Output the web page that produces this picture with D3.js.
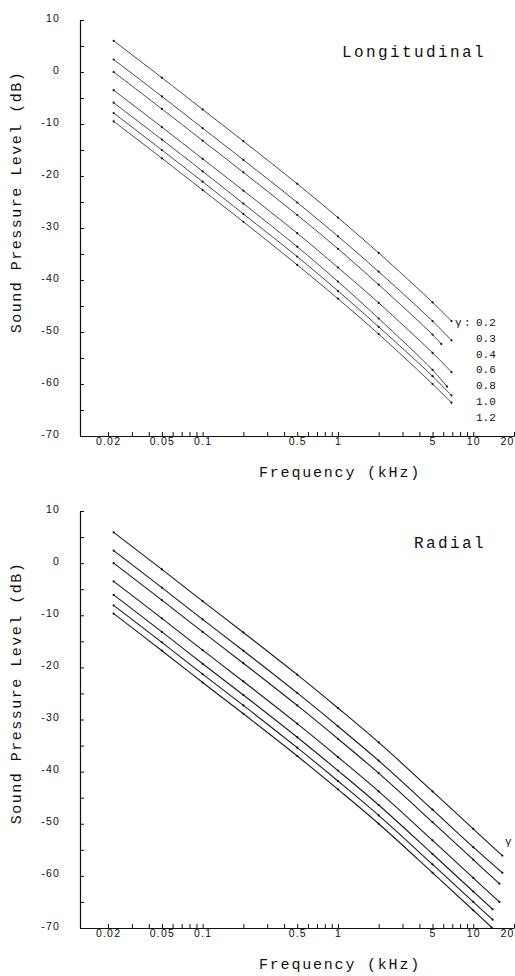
<!DOCTYPE html>
<html>
<head>
<meta charset="utf-8">
<script src="https://cdn.jsdelivr.net/npm/d3@7"></script>
<style>
  body { margin: 0; background: #fff; }
  svg { display: block; }
  .tick text { font-family: "Liberation Sans Narrow", "Liberation Sans", Arial, sans-serif; font-size: 10.5px; letter-spacing: 1.2px; fill: #111; }
  .mono { font-family: "Liberation Mono", "Courier New", monospace; fill: #111; }
</style>
</head>
<body>
<svg id="chart" width="515" height="976"></svg>
<script>
// gamma values (one curve each)
const gammaLabels = ["0.2", "0.3", "0.4", "0.6", "0.8", "1.0", "1.2"];

// Longitudinal panel, kHz / dB
const longFreq = [0.022, 0.05, 0.1, 0.2, 0.5, 1, 2, 5];
const longEndFreq = [6.9, 6.9, 5.8, 6.9, 6.4, 6.9, 6.9];
const long02 = [6.0, -1.1, -7.2, -13.3, -21.5, -28.0, -34.8, -44.3, -47.9];
const long03 = [2.4, -4.7, -10.8, -16.9, -25.1, -31.6, -38.4, -47.9, -51.6];
const long04 = [0.0, -7.1, -13.2, -19.3, -27.5, -34.0, -40.9, -50.5, -52.3];
const long06 = [-3.5, -10.6, -16.7, -22.8, -31.0, -37.6, -44.4, -54.0, -57.7];
const long08 = [-5.9, -13.0, -19.1, -25.3, -33.6, -40.3, -47.4, -57.3, -60.5];
const long10 = [-7.9, -15.0, -21.1, -27.3, -35.5, -42.1, -49.0, -58.5, -62.2];
const long12 = [-9.5, -16.6, -22.7, -28.8, -37.1, -43.6, -50.4, -60.0, -63.6];

// Radial panel
const radFreq = [0.022, 0.05, 0.1, 0.2, 0.5, 1, 2, 5, 10];
const radEndFreq = [16.4, 16.4, 15.6, 15.6, 13.9, 13.9, 13.7];
const rad02 = [5.9, -1.2, -7.3, -13.3, -21.4, -27.8, -34.4, -43.8, -51.0, -56.1];
const rad03 = [2.4, -4.7, -10.8, -16.8, -24.9, -31.3, -37.9, -47.3, -54.5, -59.4];
const rad04 = [0.0, -7.1, -13.2, -19.2, -27.3, -33.7, -40.3, -49.7, -56.9, -61.5];
const rad06 = [-3.5, -10.6, -16.7, -22.7, -30.8, -37.2, -43.8, -53.2, -60.4, -65.0];
const rad08 = [-6.1, -13.2, -19.3, -25.3, -33.4, -39.8, -46.4, -55.8, -63.0, -66.4];
const rad10 = [-8.1, -15.2, -21.3, -27.3, -35.4, -41.8, -48.4, -57.8, -65.0, -68.4];
const rad12 = [-9.7, -16.8, -22.9, -28.9, -37.0, -43.4, -50.0, -59.4, -66.6, -69.9];

// axis ticks
const xTickVals = [0.02,0.03,0.04,0.05,0.06,0.07,0.08,0.09,0.1,0.2,0.3,0.4,0.5,0.6,0.7,0.8,0.9,1,2,3,4,5,6,7,8,9,10,20];
const xTickLabels = [0.02, 0.05, 0.1, 0.5, 1, 5, 10, 20];
const yTickVals = [10,5,0,-5,-10,-15,-20,-25,-30,-35,-40,-45,-50,-55,-60,-65,-70];
const yTickLabels = [10, 0, -10, -20, -30, -40, -50, -60, -70];

var svg = d3.select("#chart");

const drawPanel = (opt) => {
  var x = d3.scaleLog().domain([0.01262, 20]).range([81, 514]);
  var y = d3.scaleLinear().domain([10, -70]).range([opt.top, opt.bottom]);

  var g = svg.append("g");

  var xAxis = d3.axisBottom(x)
    .tickValues(xTickVals)
    .tickSizeInner(-4).tickSizeOuter(0).tickPadding(2)
    .tickFormat(d => xTickLabels.indexOf(d) >= 0 ? d3.format("~g")(d) : "");
  var xg = g.append("g")
    .attr("transform", "translate(0," + opt.bottom + ")")
    .call(xAxis);
  // last label sits at the page edge
  xg.selectAll(".tick text").filter(d => d === 20)
    .attr("text-anchor", "end").attr("dx", "0px");

  var yAxis = d3.axisLeft(y)
    .tickValues(yTickVals)
    .tickSizeInner(-4).tickSizeOuter(0).tickPadding(20)
    .tickFormat(d => yTickLabels.indexOf(d) >= 0 ? String(d) : "");
  g.append("g")
    .attr("transform", "translate(80,0)")
    .call(yAxis)
    .selectAll(".tick text").attr("dy", "0.1em");

  g.selectAll(".domain").attr("stroke", "#111").attr("stroke-width", 1.2);
  g.selectAll(".tick line").attr("stroke", "#111");

  var line = d3.line()
    .x(d => x(d[0]))
    .y(d => y(d[1]))
    .curve(d3.curveCatmullRom.alpha(0.5));

  opt.series.forEach((vals, i) => {
    var freqs = opt.freq.concat([opt.endFreq[i]]);
    var pts = vals.map((v, j) => [freqs[j], v]);
    g.append("path")
      .datum(pts)
      .attr("fill", "none")
      .attr("stroke", "#1a1a1a")
      .attr("stroke-width", opt.sw)
      .attr("d", line);
    g.selectAll(null).data(pts).enter().append("circle")
      .attr("cx", d => x(d[0]))
      .attr("cy", d => y(d[1]))
      .attr("r", 1.1)
      .attr("fill", "#111");
  });

  // axis titles
  svg.append("text").attr("class", "mono")
    .attr("x", 340).attr("y", opt.bottom + 41)
    .attr("text-anchor", "middle")
    .style("font-size", "15px").style("letter-spacing", "1.8px")
    .text("Frequency (kHz)");
  svg.append("text").attr("class", "mono")
    .attr("transform", "translate(21," + (opt.top + 182) + ") rotate(-90)")
    .attr("text-anchor", "middle")
    .style("font-size", "15px").style("letter-spacing", "1.5px")
    .text("Sound Pressure Level (dB)");
  svg.append("text").attr("class", "mono")
    .attr("x", opt.titleX).attr("y", opt.top + 37)
    .style("font-size", "16px").style("letter-spacing", "2.4px")
    .text(opt.title);
};

drawPanel({
  top: 20, bottom: 436, title: "Longitudinal", titleX: 342, sw: 0.8,
  freq: longFreq, endFreq: longEndFreq,
  series: [long02, long03, long04, long06, long08, long10, long12]
});

drawPanel({
  top: 511, bottom: 928, title: "Radial", titleX: 414, sw: 1.1,
  freq: radFreq, endFreq: radEndFreq,
  series: [rad02, rad03, rad04, rad06, rad08, rad10, rad12]
});

// gamma legend (top panel)
var leg = svg.append("g").attr("class", "mono").style("font-size", "11px");
leg.append("text").attr("x", 455).attr("y", 326).text("γ");
leg.append("text").attr("x", 464).attr("y", 326).text(":");
leg.selectAll(null).data(gammaLabels).enter().append("text")
  .attr("x", 476)
  .attr("y", (d, i) => 326 + i * 15.8)
  .text(d => d);

// gamma marker (bottom panel)
svg.append("text").attr("class", "mono").style("font-size", "11px")
  .attr("x", 505).attr("y", 845).text("γ");
</script>
</body>
</html>
